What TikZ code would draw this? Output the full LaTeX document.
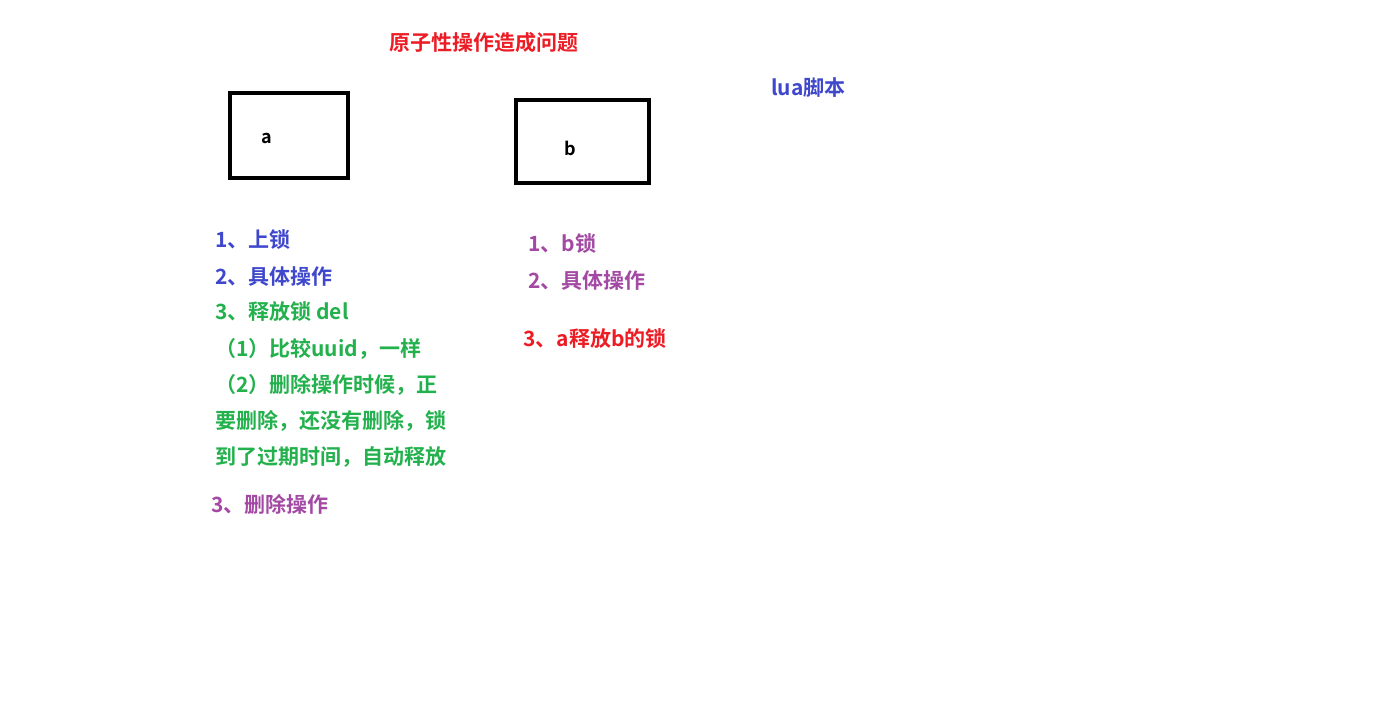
\documentclass[tikz,border=0pt]{standalone}
\usepackage{fontspec}
\setmainfont{Noto Sans CJK SC Bold}
\definecolor{pred}{RGB}{237,28,36}
\definecolor{pblue}{RGB}{63,72,204}
\definecolor{pgreen}{RGB}{34,177,76}
\definecolor{ppurple}{RGB}{163,73,164}
\begin{document}
\begin{tikzpicture}[x=1pt,y=-1pt,
  txt/.style={anchor=west,inner sep=0pt,font=\fontsize{21}{25}\selectfont},
  boxed/.style={draw=black,line width=4pt}]
\useasboundingbox[fill=white] (0,0) rectangle (1378,708);
\node[txt,text=pred] (title) at (389,43) {原子性操作造成问题};
\draw[boxed] (230,93) rectangle (348,178);
\node[inner sep=0pt,font=\fontsize{18}{20}\selectfont] (a) at (267,138) {a};
\draw[boxed] (516,100) rectangle (649,183);
\node[inner sep=0pt,font=\fontsize{18}{20}\selectfont] (b) at (570,148) {b};
\node[txt,text=pblue] (lua) at (771,88) {lua脚本};
\node[txt,text=pblue] (l1) at (215,240) {1、上锁};
\node[txt,text=pblue] (l2) at (215,277) {2、具体操作};
\node[txt,text=pgreen] (l3) at (215,312) {3、释放锁 del};
\node[txt,text=pgreen] (l4) at (215,349) {（1）比较uuid，一样};
\node[txt,text=pgreen] (l5) at (215,385) {（2）删除操作时候，正};
\node[txt,text=pgreen] (l6) at (215,421) {要删除，还没有删除，锁};
\node[txt,text=pgreen] (l7) at (215,457) {到了过期时间，自动释放};
\node[txt,text=ppurple] (l8) at (211,504) {3、删除操作};
\node[txt,text=ppurple] (r1) at (528,244) {1、b锁};
\node[txt,text=ppurple] (r2) at (528,281) {2、具体操作};
\node[txt,text=pred] (r3) at (523,339) {3、a释放b的锁};
\end{tikzpicture}
\end{document}
